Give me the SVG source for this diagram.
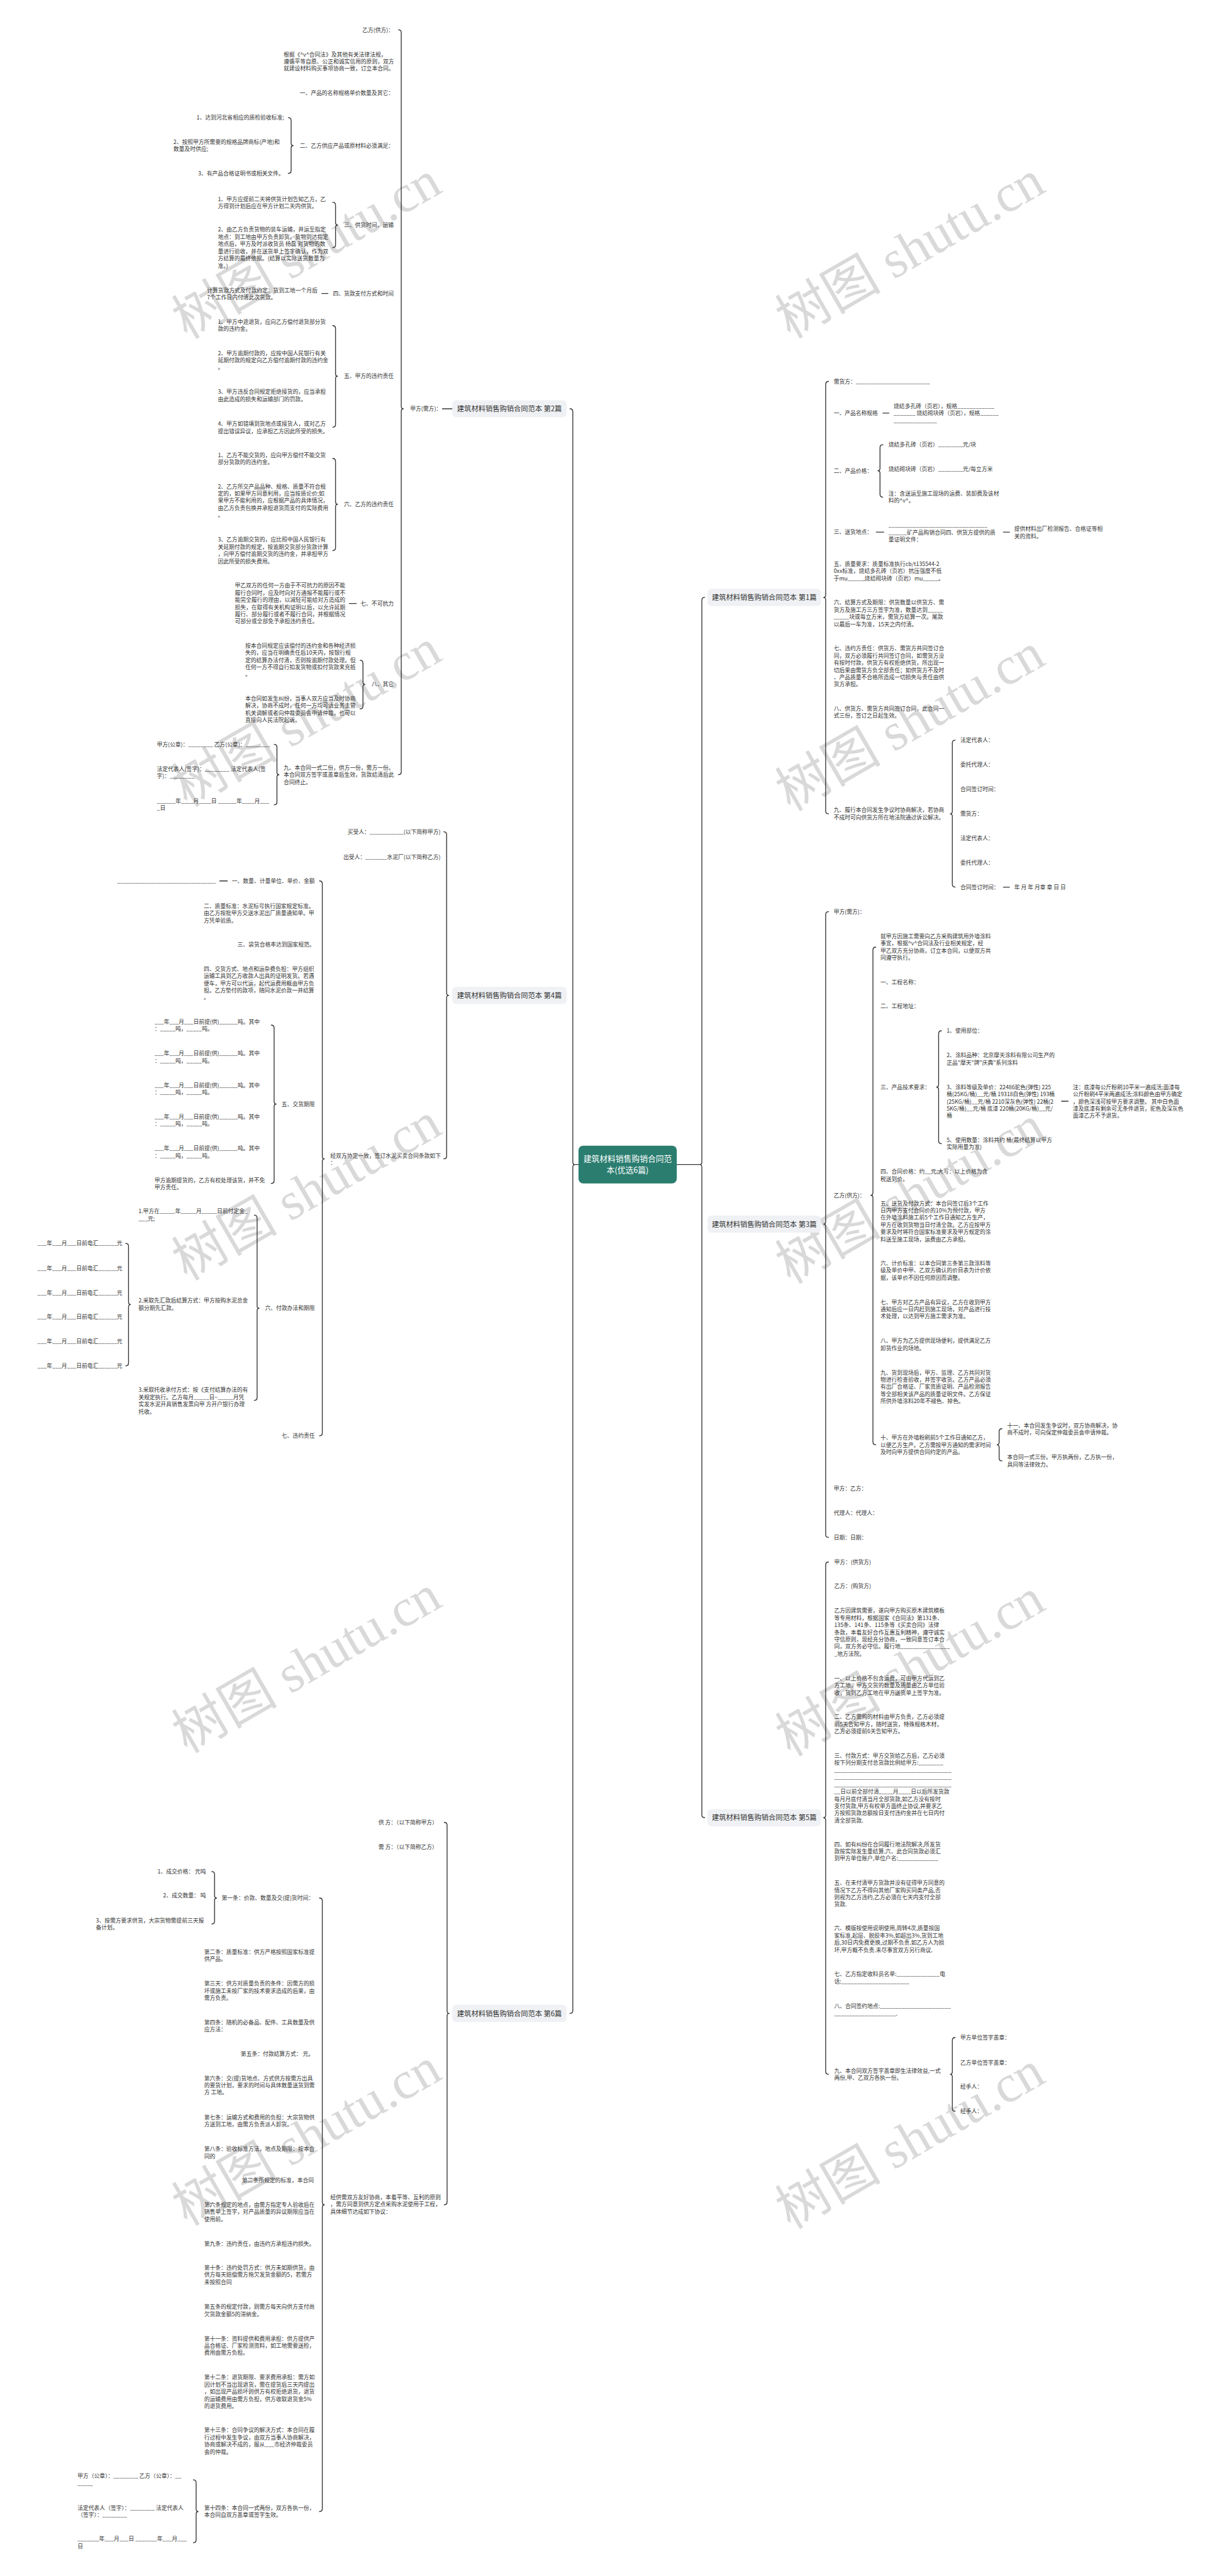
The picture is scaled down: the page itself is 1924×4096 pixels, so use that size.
<svg xmlns="http://www.w3.org/2000/svg" width="1924" height="4096" viewBox="0 0 1924 4096">
<style>
.t{font-family:"Noto Sans CJK SC","Liberation Sans",sans-serif;font-size:11.7px;fill:#333}
.e{text-anchor:end}
.ln{fill:none;stroke:#333;stroke-width:1.8;stroke-linecap:round}
.lb{fill:#eff1f4}
.lt{font-family:"Noto Sans CJK SC","Liberation Sans",sans-serif;font-size:15px;fill:#333;text-anchor:middle}
.ct{font-family:"Noto Sans CJK SC","Liberation Sans",sans-serif;font-size:17px;fill:#fff;text-anchor:middle}
.wm{font-family:"Liberation Serif","Noto Sans CJK SC",serif;font-size:112px;fill:#d9d9d9;text-anchor:middle}
</style>
<rect width="1924" height="4096" fill="#fff"/>
<g transform="scale(0.7515)">
<g id="watermarks">
<text class="wm" x="648" y="567" transform="rotate(-30 648 528)">树图 shutu.cn</text>
<text class="wm" x="648" y="1557" transform="rotate(-30 648 1518)">树图 shutu.cn</text>
<text class="wm" x="648" y="2559" transform="rotate(-30 648 2520)">树图 shutu.cn</text>
<text class="wm" x="648" y="3559" transform="rotate(-30 648 3520)">树图 shutu.cn</text>
<text class="wm" x="648" y="4559" transform="rotate(-30 648 4520)">树图 shutu.cn</text>
<text class="wm" x="1925" y="566" transform="rotate(-30 1925 527)">树图 shutu.cn</text>
<text class="wm" x="1925" y="1566" transform="rotate(-30 1925 1527)">树图 shutu.cn</text>
<text class="wm" x="1925" y="2566" transform="rotate(-30 1925 2527)">树图 shutu.cn</text>
<text class="wm" x="1925" y="3566" transform="rotate(-30 1925 3527)">树图 shutu.cn</text>
<text class="wm" x="1925" y="4566" transform="rotate(-30 1925 4527)">树图 shutu.cn</text>
</g>
<g id="connectors">
<path class="ln" d="M1206,865 Q1212,865 1212,871 L1212,2459 Q1212,2464 1217,2464 Q1212,2464 1212,2469 L1212,4254 Q1212,4260 1206,4260"/>
<path class="ln" d="M1217,2464 H1224"/>
<path class="ln" d="M1491,1264 Q1485,1264 1485,1270 L1485,2459 Q1485,2464 1480,2464 Q1485,2464 1485,2469 L1485,3840 Q1485,3846 1491,3846"/>
<path class="ln" d="M1432,2464 H1480"/>
<path class="ln" d="M843,63 Q849,63 849,69 L849,860 Q849,865 854,865 Q849,865 849,870 L849,1633 Q849,1639 843,1639"/>
<path class="ln" d="M610,249 Q616,249 616,255 L616,303 Q616,308 621,308 Q616,308 616,313 L616,361 Q616,367 610,367"/>
<path class="ln" d="M704,428 Q710,428 710,434 L710,471 Q710,476 715,476 Q710,476 710,481 L710,518 Q710,524 704,524"/>
<path class="ln" d="M704,689 Q710,689 710,695 L710,791 Q710,796 715,796 Q710,796 710,801 L710,898 Q710,904 704,904"/>
<path class="ln" d="M704,970 Q710,970 710,976 L710,1062 Q710,1067 715,1067 Q710,1067 710,1072 L710,1159 Q710,1165 704,1165"/>
<path class="ln" d="M762,1397 Q768,1397 768,1403 L768,1443 Q768,1448 773,1448 Q768,1448 768,1453 L768,1494 Q768,1500 762,1500"/>
<path class="ln" d="M580,1575 Q586,1575 586,1581 L586,1634 Q586,1639 591,1639 Q586,1639 586,1644 L586,1697 Q586,1703 580,1703"/>
<path class="ln" d="M936,865 H957"/>
<path class="ln" d="M681,621 H694"/>
<path class="ln" d="M739,1277 H754"/>
<path class="ln" d="M939,1760 Q945,1760 945,1766 L945,2101 Q945,2106 950,2106 Q945,2106 945,2111 L945,2446 Q945,2452 939,2452"/>
<path class="ln" d="M676,1864 Q682,1864 682,1870 L682,2447 Q682,2452 687,2452 Q682,2452 682,2457 L682,3032 Q682,3038 676,3038"/>
<path class="ln" d="M574,2169 Q580,2169 580,2175 L580,2331 Q580,2336 585,2336 Q580,2336 580,2341 L580,2498 Q580,2504 574,2504"/>
<path class="ln" d="M538,2571 Q544,2571 544,2577 L544,2763 Q544,2768 549,2768 Q544,2768 544,2773 L544,2957 Q544,2963 538,2963"/>
<path class="ln" d="M266,2631 Q272,2631 272,2637 L272,2755 Q272,2760 277,2760 Q272,2760 272,2765 L272,2884 Q272,2890 266,2890"/>
<path class="ln" d="M465,1864 H481"/>
<path class="ln" d="M940,3856 Q946,3856 946,3862 L946,4255 Q946,4260 951,4260 Q946,4260 946,4265 L946,4659 Q946,4665 940,4665"/>
<path class="ln" d="M676,4016 Q682,4016 682,4022 L682,4660 Q682,4665 687,4665 Q682,4665 682,4670 L682,5308 Q682,5314 676,5314"/>
<path class="ln" d="M448,3960 Q454,3960 454,3966 L454,4011 Q454,4016 459,4016 Q454,4016 454,4021 L454,4065 Q454,4071 448,4071"/>
<path class="ln" d="M409,5247 Q415,5247 415,5253 L415,5309 Q415,5314 420,5314 Q415,5314 415,5319 L415,5374 Q415,5380 409,5380"/>
<path class="ln" d="M1753,807 Q1747,807 1747,813 L1747,1259 Q1747,1264 1742,1264 Q1747,1264 1747,1269 L1747,1716 Q1747,1722 1753,1722"/>
<path class="ln" d="M1868,941 Q1862,941 1862,947 L1862,991 Q1862,996 1857,996 Q1862,996 1862,1001 L1862,1046 Q1862,1052 1868,1052"/>
<path class="ln" d="M2021,1566 Q2015,1566 2015,1572 L2015,1717 Q2015,1722 2010,1722 Q2015,1722 2015,1727 L2015,1871 Q2015,1877 2021,1877"/>
<path class="ln" d="M1868,874 H1881"/>
<path class="ln" d="M1854,1126 H1870"/>
<path class="ln" d="M2123,1126 H2136"/>
<path class="ln" d="M2123,1877 H2136"/>
<path class="ln" d="M1753,1929 Q1747,1929 1747,1935 L1747,2585 Q1747,2590 1742,2590 Q1747,2590 1747,2595 L1747,3247 Q1747,3253 1753,3253"/>
<path class="ln" d="M1853,2004 Q1847,2004 1847,2010 L1847,2524 Q1847,2529 1842,2529 Q1847,2529 1847,2534 L1847,3051 Q1847,3057 1853,3057"/>
<path class="ln" d="M1992,2181 Q1986,2181 1986,2187 L1986,2295 Q1986,2300 1981,2300 Q1986,2300 1986,2305 L1986,2414 Q1986,2420 1992,2420"/>
<path class="ln" d="M2120,3023 Q2114,3023 2114,3029 L2114,3052 Q2114,3057 2109,3057 Q2114,3057 2114,3062 L2114,3085 Q2114,3091 2120,3091"/>
<path class="ln" d="M2246,2330 H2260"/>
<path class="ln" d="M1753,3305 Q1747,3305 1747,3311 L1747,3841 Q1747,3846 1742,3846 Q1747,3846 1747,3851 L1747,4383 Q1747,4389 1753,4389"/>
<path class="ln" d="M2021,4311 Q2015,4311 2015,4317 L2015,4384 Q2015,4389 2010,4389 Q2015,4389 2015,4394 L2015,4461 Q2015,4467 2021,4467"/>
</g>
<g id="center">
<rect x="1224" y="2424" width="208" height="80" rx="10" fill="#2a7d6f"/>
<text class="ct" x="1328" y="2458">建筑材料销售购销合同范</text>
<text class="ct" x="1328" y="2482">本(优选6篇)</text>
</g>
<g id="b2"><rect class="lb" x="957" y="847" width="242" height="36" rx="8"/><text class="lt" x="1078" y="870.5">建筑材料销售购销合同范本 第2篇</text></g>
<g id="b4"><rect class="lb" x="957" y="2088" width="242" height="36" rx="8"/><text class="lt" x="1078" y="2111.5">建筑材料销售购销合同范本 第4篇</text></g>
<g id="b6"><rect class="lb" x="957" y="4242" width="242" height="36" rx="8"/><text class="lt" x="1078" y="4265.5">建筑材料销售购销合同范本 第6篇</text></g>
<g id="b1"><rect class="lb" x="1497" y="1246" width="240" height="36" rx="8"/><text class="lt" x="1617" y="1269.5">建筑材料销售购销合同范本 第1篇</text></g>
<g id="b3"><rect class="lb" x="1497" y="2572" width="240" height="36" rx="8"/><text class="lt" x="1617" y="2595.5">建筑材料销售购销合同范本 第3篇</text></g>
<g id="b5"><rect class="lb" x="1497" y="3828" width="240" height="36" rx="8"/><text class="lt" x="1617" y="3851.5">建筑材料销售购销合同范本 第5篇</text></g>

<g id="l1">
<g id="l1-jf"><text class="t" x="868" y="869.3">甲方(需方)：</text></g>
<g id="l1-1"><text class="t e" x="833" y="67.3">乙方(供方)：</text></g>
<g id="l1-2"><text class="t" x="600" y="119.3"><tspan x="600">根据《^v^合同法》及其他有关法律法规，</tspan><tspan x="600" dy="15.2">遵循平等自愿、公正和诚实信用的原则，双方</tspan><tspan x="600" dy="15.2">就建设材料购买事项协商一致，订立本合同。</tspan></text></g>
<g id="l1-3"><text class="t e" x="833" y="201.3">一、产品的名称规格单价数量及其它：</text></g>
<g id="l1-4"><text class="t e" x="833" y="312.3">二、乙方供应产品或原材料必须满足：</text></g>
<g id="l1-4a"><text class="t e" x="601" y="253.3">1、达到河北省相应的质检验收标准;</text></g>
<g id="l1-4b"><text class="t" x="367" y="304.3"><tspan x="367">2、按照甲方所需要的规格品牌商标(产地)和</tspan><tspan x="367" dy="15.2">数量及时供应;</tspan></text></g>
<g id="l1-4c"><text class="t e" x="601" y="371.3">3、有产品合格证明书或相关文件。</text></g>
<g id="l1-5"><text class="t e" x="833" y="480.3">三、供货时间、运输</text></g>
<g id="l1-5a"><text class="t" x="461" y="425.3"><tspan x="461">1、甲方应提前二天将供货计划告知乙方，乙</tspan><tspan x="461" dy="15.2">方得到计划后应在甲方计划二天内供货。</tspan></text></g>
<g id="l1-5b"><text class="t" x="461" y="490.3"><tspan x="461">2、由乙方负责货物的装车运输，并运至指定</tspan><tspan x="461" dy="15.2">地点：到工地由甲方负责卸货。货物到达指定</tspan><tspan x="461" dy="15.2">地点后，甲方及时派收货员 杨磊 对货物的数</tspan><tspan x="461" dy="15.2">量进行验收，并在送货单上签字确认，作为双</tspan><tspan x="461" dy="15.2">方结算的最终依据。(结算以实际送货数量为</tspan><tspan x="461" dy="15.2">准。)</tspan></text></g>
<g id="l1-6"><text class="t e" x="833" y="625.3">四、货款支付方式和时间</text></g>
<g id="l1-6a"><text class="t" x="438" y="618.3"><tspan x="438">计算货款方式及付款约定：货到工地一个月后</tspan><tspan x="438" dy="15.2">7个工作日内付清此次货款。</tspan></text></g>
<g id="l1-7"><text class="t e" x="833" y="800.3">五、甲方的违约责任</text></g>
<g id="l1-7a"><text class="t" x="461" y="685.3"><tspan x="461">1、甲方中途退货，应向乙方偿付退货部分货</tspan><tspan x="461" dy="15.2">款的违约金。</tspan></text></g>
<g id="l1-7b"><text class="t" x="461" y="751.3"><tspan x="461">2、甲方逾期付款的，应按中国人民银行有关</tspan><tspan x="461" dy="15.2">延期付款的规定向乙方偿付逾期付款的违约金</tspan><tspan x="461" dy="15.2">。</tspan></text></g>
<g id="l1-7c"><text class="t" x="461" y="833.3"><tspan x="461">3、甲方违反合同规定拒绝接货的，应当承担</tspan><tspan x="461" dy="15.2">由此造成的损失和运输部门的罚款。</tspan></text></g>
<g id="l1-7d"><text class="t" x="461" y="901.3"><tspan x="461">4、甲方如错填到货地点或接货人，或对乙方</tspan><tspan x="461" dy="15.2">提出错误异议，应承担乙方因此所受的损失。</tspan></text></g>
<g id="l1-8"><text class="t e" x="833" y="1071.3">六、乙方的违约责任</text></g>
<g id="l1-8a"><text class="t" x="461" y="967.3"><tspan x="461">1、乙方不能交货的，应向甲方偿付不能交货</tspan><tspan x="461" dy="15.2">部分货款的的违约金。</tspan></text></g>
<g id="l1-8b"><text class="t" x="461" y="1033.3"><tspan x="461">2、乙方所交产品品种、规格、质量不符合规</tspan><tspan x="461" dy="15.2">定的，如果甲方同意利用，应当按质论价;如</tspan><tspan x="461" dy="15.2">果甲方不能利用的，应根据产品的具体情况，</tspan><tspan x="461" dy="15.2">由乙方负责包换并承担退货而支付的实际费用</tspan><tspan x="461" dy="15.2">。</tspan></text></g>
<g id="l1-8c"><text class="t" x="461" y="1146.3"><tspan x="461">3、乙方逾期交货的，应比照中国人民银行有</tspan><tspan x="461" dy="15.2">关延期付款的规定，按逾期交货部分货款计算</tspan><tspan x="461" dy="15.2">，向甲方偿付逾期交货的违约金，并承担甲方</tspan><tspan x="461" dy="15.2">因此所受的损失费用。</tspan></text></g>
<g id="l1-9"><text class="t e" x="833" y="1281.3">七、不可抗力</text></g>
<g id="l1-9a"><text class="t" x="497" y="1243.3"><tspan x="497">甲乙双方的任何一方由于不可抗力的原因不能</tspan><tspan x="497" dy="15.2">履行合同时，应及时向对方通报不能履行或不</tspan><tspan x="497" dy="15.2">能完全履行的理由，以减轻可能给对方造成的</tspan><tspan x="497" dy="15.2">损失，在取得有关机构证明以后，以允许延期</tspan><tspan x="497" dy="15.2">履行、部分履行或者不履行合同，并根据情况</tspan><tspan x="497" dy="15.2">可部分或全部免予承担违约责任。</tspan></text></g>
<g id="l1-10"><text class="t e" x="833" y="1452.3">八、其它</text></g>
<g id="l1-10a"><text class="t" x="519" y="1370.3"><tspan x="519">按本合同规定应该偿付的违约金和各种经济损</tspan><tspan x="519" dy="15.2">失的，应当在明确责任后10天内，按银行规</tspan><tspan x="519" dy="15.2">定的结算办法付清，否则按逾期付款处理。但</tspan><tspan x="519" dy="15.2">任何一方不得自行扣发货物或扣付货款来充抵</tspan><tspan x="519" dy="15.2">。</tspan></text></g>
<g id="l1-10b"><text class="t" x="519" y="1482.3"><tspan x="519">本合同如发生纠纷，当事人双方应当及时协商</tspan><tspan x="519" dy="15.2">解决，协商不成时，任何一方均可请业务主管</tspan><tspan x="519" dy="15.2">机关调解或者向仲裁委员会申请仲裁，也可以</tspan><tspan x="519" dy="15.2">直接向人民法院起诉。</tspan></text></g>
<g id="l1-11"><text class="t" x="600" y="1628.3"><tspan x="600">九、本合同一式二份，供方一份，需方一份。</tspan><tspan x="600" dy="15.2">本合同双方签字或盖章后生效，货款结清后此</tspan><tspan x="600" dy="15.2">合同终止。</tspan></text></g>
<g id="l1-11a"><text class="t" x="332" y="1579.3">甲方(公章)：________ 乙方(公章)：________</text></g>
<g id="l1-11b"><text class="t" x="332" y="1631.3"><tspan x="332">法定代表人(签字)：________ 法定代表人(签</tspan><tspan x="332" dy="15.2">字)：________</tspan></text></g>
<g id="l1-11c"><text class="t" x="332" y="1699.3"><tspan x="332">______年____月____日 ______年____月___</tspan><tspan x="332" dy="15.2">_日</tspan></text></g>
</g>

<g id="l2">
<g id="l2-1"><text class="t e" x="932" y="1764.3">买受人：___________(以下简称甲方)</text></g>
<g id="l2-2"><text class="t e" x="932" y="1817.3">出受人：_______水泥厂(以下简称乙方)</text></g>
<g id="l2-3"><text class="t" x="699" y="2449.3"><tspan x="699">经双方协定一致，签订水泥买卖合同条款如下</tspan><tspan x="699" dy="15.2">：</tspan></text></g>
<g id="l2-3a"><text class="t e" x="666" y="1868.3">一、数量、计量单位、单价、金额</text></g>
<g id="l2-3a1"><text class="t e" x="457" y="1868.3">________________________________</text></g>
<g id="l2-3b"><text class="t" x="431" y="1921.3"><tspan x="431">二、质量标准：水泥标号执行国家规定标准。</tspan><tspan x="431" dy="15.2">由乙方按批甲方交送水泥出厂质量通知单。甲</tspan><tspan x="431" dy="15.2">方凭单验质。</tspan></text></g>
<g id="l2-3c"><text class="t e" x="666" y="2002.3">三、袋货合格率达到国家规范。</text></g>
<g id="l2-3d"><text class="t" x="431" y="2054.3"><tspan x="431">四、交货方式、地点和运杂费负担：甲方组织</tspan><tspan x="431" dy="15.2">运输工具到乙方收款人出具的证明发货。若遇</tspan><tspan x="431" dy="15.2">便车，甲方可以代运，起代运费用概由甲方负</tspan><tspan x="431" dy="15.2">担。乙方垫付的款项，随同水泥价款一并结算</tspan><tspan x="431" dy="15.2">。</tspan></text></g>
<g id="l2-3e"><text class="t e" x="666" y="2340.3">五、交货期限</text></g>
<g id="l2-3e1"><text class="t" x="327" y="2166.3"><tspan x="327">___年___月___日前提(供)______吨。其中</tspan><tspan x="327" dy="15.2">：_____吨，_____吨。</tspan></text></g>
<g id="l2-3e2"><text class="t" x="327" y="2233.3"><tspan x="327">___年___月___日前提(供)______吨。其中</tspan><tspan x="327" dy="15.2">：_____吨，_____吨。</tspan></text></g>
<g id="l2-3e3"><text class="t" x="327" y="2300.3"><tspan x="327">___年___月___日前提(供)______吨。其中</tspan><tspan x="327" dy="15.2">：_____吨，_____吨。</tspan></text></g>
<g id="l2-3e4"><text class="t" x="327" y="2367.3"><tspan x="327">___年___月___日前提(供)______吨。其中</tspan><tspan x="327" dy="15.2">：_____吨，_____吨。</tspan></text></g>
<g id="l2-3e5"><text class="t" x="327" y="2434.3"><tspan x="327">___年___月___日前提(供)______吨。其中</tspan><tspan x="327" dy="15.2">：_____吨，_____吨。</tspan></text></g>
<g id="l2-3e6"><text class="t" x="327" y="2501.3"><tspan x="327">甲方逾期提货的，乙方有权处理该货，并不免</tspan><tspan x="327" dy="15.2">甲方责任。</tspan></text></g>
<g id="l2-3f"><text class="t e" x="666" y="2772.3">六、付款办法和期限</text></g>
<g id="l2-3f1"><text class="t" x="293" y="2567.3"><tspan x="293">1.甲方在_____年_____月_____日前付定金_</tspan><tspan x="293" dy="15.2">___元;</tspan></text></g>
<g id="l2-3f2"><text class="t" x="293" y="2756.3"><tspan x="293">2.采取先汇款后结算方式：甲方按购水泥总金</tspan><tspan x="293" dy="15.2">额分期先汇款。</tspan></text></g>
<g id="l2-3f2a"><text class="t e" x="259" y="2635.3">___年___月___日前电汇______元</text></g>
<g id="l2-3f2b"><text class="t e" x="259" y="2687.3">___年___月___日前电汇______元</text></g>
<g id="l2-3f2c"><text class="t e" x="259" y="2739.3">___年___月___日前电汇______元</text></g>
<g id="l2-3f2d"><text class="t e" x="259" y="2790.3">___年___月___日前电汇______元</text></g>
<g id="l2-3f2e"><text class="t e" x="259" y="2842.3">___年___月___日前电汇______元</text></g>
<g id="l2-3f2f"><text class="t e" x="259" y="2894.3">___年___月___日前电汇______元</text></g>
<g id="l2-3f3"><text class="t" x="293" y="2945.3"><tspan x="293">3.采取托收承付方式：按《支付结算办法的有</tspan><tspan x="293" dy="15.2">关规定执行。乙方每月_____日~_____月凭</tspan><tspan x="293" dy="15.2">实发水泥开具销售发票向甲 方开户银行办理</tspan><tspan x="293" dy="15.2">托收。</tspan></text></g>
<g id="l2-3g"><text class="t e" x="666" y="3042.3">七、违约责任</text></g>
</g>

<g id="l3">
<g id="l3-1"><text class="t e" x="926" y="3860.3">供 方：（以下简称甲方）</text></g>
<g id="l3-2"><text class="t e" x="926" y="3912.3">需 方：（以下简称乙方）</text></g>
<g id="l3-3"><text class="t" x="699" y="4653.3"><tspan x="699">经供需双方友好协商，本着平等、互利的原则</tspan><tspan x="699" dy="15.2">，需方同意到供方定点采购水泥使用于工程，</tspan><tspan x="699" dy="15.2">具体细节达成如下协议：</tspan></text></g>
<g id="l3-3a"><text class="t e" x="664" y="4020.3">第一条：价款、数量及交(提)货时间：</text></g>
<g id="l3-3a1"><text class="t e" x="436" y="3964.3">1、成交价格： 元吨</text></g>
<g id="l3-3a2"><text class="t e" x="436" y="4015.3">2、成交数量： 吨</text></g>
<g id="l3-3a3"><text class="t" x="203" y="4067.3"><tspan x="203">3、按需方要求供货，大宗货物需提前三天报</tspan><tspan x="203" dy="15.2">备计划。</tspan></text></g>
<g id="l3-3b"><text class="t" x="432" y="4134.3"><tspan x="432">第二条：质量标准：供方严格按照国家标准提</tspan><tspan x="432" dy="15.2">供产品。</tspan></text></g>
<g id="l3-3c"><text class="t" x="432" y="4201.3"><tspan x="432">第三天：供方对质量负责的条件：因需方的损</tspan><tspan x="432" dy="15.2">坏或施工未按厂家的技术要求造成的后果，由</tspan><tspan x="432" dy="15.2">需方负责。</tspan></text></g>
<g id="l3-3d"><text class="t" x="432" y="4283.3"><tspan x="432">第四条：随机的必备品、配件、工具数量及供</tspan><tspan x="432" dy="15.2">应方法：</tspan></text></g>
<g id="l3-3e"><text class="t e" x="664" y="4350.3">第五条：付款结算方式： 元。</text></g>
<g id="l3-3f"><text class="t" x="432" y="4401.3"><tspan x="432">第六条：交(提)货地点、方式供方按需方出具</tspan><tspan x="432" dy="15.2">的要货计划，要求的时间与具体数量送货到需</tspan><tspan x="432" dy="15.2">方 工地。</tspan></text></g>
<g id="l3-3g"><text class="t" x="432" y="4484.3"><tspan x="432">第七条：运输方式和费用的负担：大宗货物供</tspan><tspan x="432" dy="15.2">方送到工地，由需方负责派人卸货。</tspan></text></g>
<g id="l3-3h"><text class="t" x="432" y="4551.3"><tspan x="432">第八条：验收标准方法，地点及期限：按本合</tspan><tspan x="432" dy="15.2">同的</tspan></text></g>
<g id="l3-3i"><text class="t e" x="664" y="4617.3">第二条所规定的标准，本合同</text></g>
<g id="l3-3j"><text class="t" x="432" y="4669.3"><tspan x="432">第六条规定的地点，由需方指定专人验收后在</tspan><tspan x="432" dy="15.2">销售单上签字，对产品质量的异议期限应当在</tspan><tspan x="432" dy="15.2">使用前。</tspan></text></g>
<g id="l3-3k"><text class="t" x="432" y="4751.3">第九条：违约责任，由违约方承担违约损失。</text></g>
<g id="l3-3l"><text class="t" x="432" y="4802.3"><tspan x="432">第十条：违约处罚方式：供方未如期供货，由</tspan><tspan x="432" dy="15.2">供方每天赔偿需方拖欠发货金额的5，若需方</tspan><tspan x="432" dy="15.2">未按照合同</tspan></text></g>
<g id="l3-3m"><text class="t" x="432" y="4885.3"><tspan x="432">第五条的规定付款，则需方每天向供方支付尚</tspan><tspan x="432" dy="15.2">欠货款金额5的滞纳金。</tspan></text></g>
<g id="l3-3n"><text class="t" x="432" y="4952.3"><tspan x="432">第十一条：资料提供和费用承担：供方提供产</tspan><tspan x="432" dy="15.2">品合格证、厂家检测资料，如工地需要送检，</tspan><tspan x="432" dy="15.2">费用由需方负担。</tspan></text></g>
<g id="l3-3o"><text class="t" x="432" y="5034.3"><tspan x="432">第十二条：退货期限、要求费用承担：需方如</tspan><tspan x="432" dy="15.2">因计划不当出现退货，需在提货后三天内提出</tspan><tspan x="432" dy="15.2">，如出现产品损坏则供方有权拒绝退货，退货</tspan><tspan x="432" dy="15.2">的运输费用由需方负担，供方收取退货金5%</tspan><tspan x="432" dy="15.2">的退货费用。</tspan></text></g>
<g id="l3-3p"><text class="t" x="432" y="5146.3"><tspan x="432">第十三条：合同争议的解决方式：本合同在履</tspan><tspan x="432" dy="15.2">行过程中发生争议，由双方当事人协商解决，</tspan><tspan x="432" dy="15.2">协商或解决不成的，服从___市经济仲裁委员</tspan><tspan x="432" dy="15.2">会的仲裁。</tspan></text></g>
<g id="l3-3q"><text class="t" x="432" y="5310.3"><tspan x="432">第十四条：本合同一式两份，双方各执一份，</tspan><tspan x="432" dy="15.2">本合同自双方盖章或签字生效。</tspan></text></g>
<g id="l3-3q1"><text class="t" x="164" y="5243.3"><tspan x="164">甲方（公章）：________ 乙方（公章）：__</tspan><tspan x="164" dy="15.2">_____</tspan></text></g>
<g id="l3-3q2"><text class="t" x="164" y="5310.3"><tspan x="164">法定代表人（签字）：________ 法定代表人</tspan><tspan x="164" dy="15.2">（签字）：________</tspan></text></g>
<g id="l3-3q3"><text class="t" x="164" y="5376.3"><tspan x="164">_______年___月___日 _______年___月___</tspan><tspan x="164" dy="15.2">日</tspan></text></g>
</g>

<g id="r1">
<g id="r1-1"><text class="t" x="1764" y="811.3">需货方：________________________</text></g>
<g id="r1-2"><text class="t" x="1764" y="878.3">一、产品名称规格</text></g>
<g id="r1-2a"><text class="t" x="1891" y="863.3"><tspan x="1891">烧结多孔砖（页岩），规格____________</tspan><tspan x="1891" dy="15.2">_______ 烧结砌块砖（页岩），规格______</tspan><tspan x="1891" dy="15.2">______________</tspan></text></g>
<g id="r1-3"><text class="t" x="1764" y="1000.3">二、产品价格：</text></g>
<g id="r1-3a"><text class="t" x="1880" y="945.3">烧结多孔砖（页岩）________元/块</text></g>
<g id="r1-3b"><text class="t" x="1880" y="996.3">烧结砌块砖（页岩）________元/每立方米</text></g>
<g id="r1-3c"><text class="t" x="1880" y="1048.3"><tspan x="1880">注：含送运至施工现场的运费、装卸费及该材</tspan><tspan x="1880" dy="15.2">料的^v^。</tspan></text></g>
<g id="r1-4"><text class="t" x="1764" y="1130.3">三、送货地点：</text></g>
<g id="r1-4a"><text class="t" x="1880" y="1115.3"><tspan x="1880">________________________________</tspan><tspan x="1880" dy="15.2">______矿产品购销合同四、供货方提供的质</tspan><tspan x="1880" dy="15.2">量证明文件：</tspan></text></g>
<g id="r1-4b"><text class="t" x="2146" y="1123.3"><tspan x="2146">提供材料出厂检测报告、合格证等相</tspan><tspan x="2146" dy="15.2">关的资料。</tspan></text></g>
<g id="r1-5"><text class="t" x="1764" y="1197.3"><tspan x="1764">五、质量要求：质量标准执行cb/t135544-2</tspan><tspan x="1764" dy="15.2">0xx标准，烧结多孔砖（页岩）抗压强度不低</tspan><tspan x="1764" dy="15.2">于mu_____,烧结砌块砖（页岩）mu_____。</tspan></text></g>
<g id="r1-6"><text class="t" x="1764" y="1279.3"><tspan x="1764">六、结算方式及期限：供货数量以供货方、需</tspan><tspan x="1764" dy="15.2">货方及施工方三方签字为准，数量达到_____</tspan><tspan x="1764" dy="15.2">_____块或每立方米，需货方结算一次。尾款</tspan><tspan x="1764" dy="15.2">以最后一车为准，15天之内付清。</tspan></text></g>
<g id="r1-7"><text class="t" x="1764" y="1376.3"><tspan x="1764">七、违约方责任：供货方、需货方共同签订合</tspan><tspan x="1764" dy="15.2">同，双方必须履行共同签订合同，如需货方没</tspan><tspan x="1764" dy="15.2">有按时付款，供货方有权拒绝供货，所出现一</tspan><tspan x="1764" dy="15.2">切后果由需货方负全部责任；如供货方不及时</tspan><tspan x="1764" dy="15.2">、产品质量不合格所造成一切损失与责任由供</tspan><tspan x="1764" dy="15.2">货方承担。</tspan></text></g>
<g id="r1-8"><text class="t" x="1764" y="1503.3"><tspan x="1764">八、供货方、需货方共同签订合同，此合同一</tspan><tspan x="1764" dy="15.2">式三份，签订之日起生效。</tspan></text></g>
<g id="r1-9"><text class="t" x="1764" y="1718.3"><tspan x="1764">九、履行本合同发生争议时协商解决，若协商</tspan><tspan x="1764" dy="15.2">不成时可向供货方所在地法院通过诉讼解决。</tspan></text></g>
<g id="r1-9a"><text class="t" x="2032" y="1570.3">法定代表人：</text></g>
<g id="r1-9b"><text class="t" x="2032" y="1622.3">委托代理人：</text></g>
<g id="r1-9c"><text class="t" x="2032" y="1674.3">合同签订时间：</text></g>
<g id="r1-9d"><text class="t" x="2032" y="1725.3">需货方：</text></g>
<g id="r1-9e"><text class="t" x="2032" y="1777.3">法定代表人：</text></g>
<g id="r1-9f"><text class="t" x="2032" y="1829.3">委托代理人：</text></g>
<g id="r1-9g"><text class="t" x="2032" y="1881.3">合同签订时间：</text></g>
<g id="r1-9g1"><text class="t" x="2146" y="1881.3">年 月 年 月章 章 日 日</text></g>
</g>

<g id="r2">
<g id="r2-1"><text class="t" x="1764" y="1933.3">甲方(需方)：</text></g>
<g id="r2-2"><text class="t" x="1764" y="2533.3">乙方(供方)：</text></g>
<g id="r2-2a"><text class="t" x="1863" y="1985.3"><tspan x="1863">就甲方因施工需要向乙方采购建筑用外墙涂料</tspan><tspan x="1863" dy="15.2">事宜，根据^v^合同法及行业相关规定，经</tspan><tspan x="1863" dy="15.2">甲乙双方充分协商，订立本合同，以便双方共</tspan><tspan x="1863" dy="15.2">同遵守执行。</tspan></text></g>
<g id="r2-2b"><text class="t" x="1863" y="2082.3">一、工程名称：</text></g>
<g id="r2-2c"><text class="t" x="1863" y="2133.3">二、工程地址：</text></g>
<g id="r2-2d"><text class="t" x="1863" y="2304.3">三、产品技术要求：</text></g>
<g id="r2-2d1"><text class="t" x="2003" y="2185.3">1、使用部位：</text></g>
<g id="r2-2d2"><text class="t" x="2003" y="2237.3"><tspan x="2003">2、涂料品种：北京摩天涂料有限公司生产的</tspan><tspan x="2003" dy="15.2">正品"摩天"牌"庆典"系列涂料</tspan></text></g>
<g id="r2-2d3"><text class="t" x="2003" y="2304.3"><tspan x="2003">3、涂料等级及单价：22486驼色(弹性) 225</tspan><tspan x="2003" dy="15.2">桶(25KG/桶)__元/桶 19318白色(弹性) 193桶</tspan><tspan x="2003" dy="15.2">(25KG/桶)__元/桶 2210深灰色(弹性) 22桶(2</tspan><tspan x="2003" dy="15.2">5KG/桶)__元/桶 底漆 220桶(20KG/桶)__元/</tspan><tspan x="2003" dy="15.2">桶</tspan></text></g>
<g id="r2-2d3a"><text class="t" x="2270" y="2304.3"><tspan x="2270">注：底漆每公斤粉刷10平米一遍成活;面漆每</tspan><tspan x="2270" dy="15.2">公斤粉刷4平米两遍成活;涂料颜色由甲方确定</tspan><tspan x="2270" dy="15.2">，颜色深浅可按甲方要求调整。 其中白色面</tspan><tspan x="2270" dy="15.2">漆及底漆有剩余可无条件退货，驼色及深灰色</tspan><tspan x="2270" dy="15.2">面漆乙方不予退货。</tspan></text></g>
<g id="r2-2d4"><text class="t" x="2003" y="2416.3"><tspan x="2003">5、使用数量：涂料共约 桶(最终结算以甲方</tspan><tspan x="2003" dy="15.2">实际用量为准)</tspan></text></g>
<g id="r2-2e"><text class="t" x="1863" y="2483.3"><tspan x="1863">四、合同价格：约__元;大写：以上价格为含</tspan><tspan x="1863" dy="15.2">税送到价。</tspan></text></g>
<g id="r2-2f"><text class="t" x="1863" y="2550.3"><tspan x="1863">五、送货及付款方式：本合同签订后3个工作</tspan><tspan x="1863" dy="15.2">日内甲方支付合同价的10%为预付款，甲方</tspan><tspan x="1863" dy="15.2">在外墙涂料施工前5个工作日通知乙方生产，</tspan><tspan x="1863" dy="15.2">甲方在收到货物当日付清全款。乙方应按甲方</tspan><tspan x="1863" dy="15.2">要求及时将符合国家标准要求及甲方规定的涂</tspan><tspan x="1863" dy="15.2">料送至施工现场，运费由乙方承担。</tspan></text></g>
<g id="r2-2g"><text class="t" x="1863" y="2677.3"><tspan x="1863">六、计价标准：以本合同第三条第三款涂料等</tspan><tspan x="1863" dy="15.2">级及单价中甲、乙双方确认的价目表为计价依</tspan><tspan x="1863" dy="15.2">据，该单价不因任何原因而调整。</tspan></text></g>
<g id="r2-2h"><text class="t" x="1863" y="2759.3"><tspan x="1863">七、甲方对乙方产品有异议，乙方在收到甲方</tspan><tspan x="1863" dy="15.2">通知后应一日内赶到施工现场，对产品进行技</tspan><tspan x="1863" dy="15.2">术处理，以达到甲方施工需求为准。</tspan></text></g>
<g id="r2-2i"><text class="t" x="1863" y="2841.3"><tspan x="1863">八、甲方为乙方提供现场便利，提供满足乙方</tspan><tspan x="1863" dy="15.2">卸货作业的场地。</tspan></text></g>
<g id="r2-2j"><text class="t" x="1863" y="2908.3"><tspan x="1863">九、货到现场后，甲方、监理、乙方共同对货</tspan><tspan x="1863" dy="15.2">物进行检查验收，并签字收货。乙方产品必须</tspan><tspan x="1863" dy="15.2">有出厂合格证、厂家资质证明、产品检测报告</tspan><tspan x="1863" dy="15.2">等全部相关该产品的质量证明文件。乙方保证</tspan><tspan x="1863" dy="15.2">所供外墙涂料20年不褪色、掉色。</tspan></text></g>
<g id="r2-2k"><text class="t" x="1863" y="3046.3"><tspan x="1863">十、甲方在外墙粉刷前5个工作日通知乙方，</tspan><tspan x="1863" dy="15.2">以便乙方生产。乙方需按甲方通知的需求时间</tspan><tspan x="1863" dy="15.2">及时向甲方提供合同约定的产品。</tspan></text></g>
<g id="r2-2k1"><text class="t" x="2131" y="3020.3"><tspan x="2131">十一、本合同发生争议时，双方协商解决，协</tspan><tspan x="2131" dy="15.2">商不成时，可向保定仲裁委员会申请仲裁。</tspan></text></g>
<g id="r2-2k2"><text class="t" x="2131" y="3087.3"><tspan x="2131">本合同一式三份。甲方执两份，乙方执一份，</tspan><tspan x="2131" dy="15.2">具同等法律效力。</tspan></text></g>
<g id="r2-3"><text class="t" x="1764" y="3153.3">甲方：乙方：</text></g>
<g id="r2-4"><text class="t" x="1764" y="3205.3">代理人：代理人：</text></g>
<g id="r2-5"><text class="t" x="1764" y="3257.3">日期：日期：</text></g>
</g>

<g id="r3">
<g id="r3-1"><text class="t" x="1765" y="3309.3">甲方：(供货方)</text></g>
<g id="r3-2"><text class="t" x="1765" y="3360.3">乙方：(购货方)</text></g>
<g id="r3-3"><text class="t" x="1765" y="3412.3"><tspan x="1765">乙方因建筑需要，遂向甲方购买原木建筑模板</tspan><tspan x="1765" dy="15.2">等专用材料，根据国家《合同法》第131条、</tspan><tspan x="1765" dy="15.2">135条、141条、115条等《买卖合同》法律</tspan><tspan x="1765" dy="15.2">条款，本着友好合作互惠互利精神，遵守诚实</tspan><tspan x="1765" dy="15.2">守信原则，现经充分协商，一致同意签订本合</tspan><tspan x="1765" dy="15.2">同，双方务必守信。履行地________________</tspan><tspan x="1765" dy="15.2">_地方法院。</tspan></text></g>
<g id="r3-4"><text class="t" x="1765" y="3555.3"><tspan x="1765">一、以上价格不包含运费，可由甲方代运到乙</tspan><tspan x="1765" dy="15.2">方工地，甲方交货的数量及质量由乙方单位验</tspan><tspan x="1765" dy="15.2">收，货到乙方工地在甲方送货单上签字为准。</tspan></text></g>
<g id="r3-5"><text class="t" x="1765" y="3637.3"><tspan x="1765">二、乙方需购的材料由甲方负责，乙方必须提</tspan><tspan x="1765" dy="15.2">前5天告知甲方，随时送货，特殊规格木材，</tspan><tspan x="1765" dy="15.2">乙方必须提前6天告知甲方。</tspan></text></g>
<g id="r3-6"><text class="t" x="1765" y="3719.3"><tspan x="1765">三、付款方式：甲方交货给乙方后，乙方必须</tspan><tspan x="1765" dy="15.2">按下列分期支付总货款比例给甲方:________</tspan><tspan x="1765" dy="15.2">______________________________________</tspan><tspan x="1765" dy="15.2">______________________________________</tspan><tspan x="1765" dy="15.2">______________________________________</tspan><tspan x="1765" dy="15.2">__日以前全部付清,____月____日以后所发货款</tspan><tspan x="1765" dy="15.2">每月月底付清当月全部货款,如乙方没有按时</tspan><tspan x="1765" dy="15.2">支付货款,甲方有权单方面终止协议,并要求乙</tspan><tspan x="1765" dy="15.2">方按照货款总额按日支付违约金并在七日内付</tspan><tspan x="1765" dy="15.2">清全部货款.</tspan></text></g>
<g id="r3-7"><text class="t" x="1765" y="3906.3"><tspan x="1765">四、如有纠纷在合同履行地法院解决,所发货</tspan><tspan x="1765" dy="15.2">款按实际发生量结算.六、此合同货款必须汇</tspan><tspan x="1765" dy="15.2">到甲方单位账户,单位户名:_____________</tspan></text></g>
<g id="r3-8"><text class="t" x="1765" y="3988.3"><tspan x="1765">五、在未付清甲方货款并没有征得甲方同意的</tspan><tspan x="1765" dy="15.2">情况下乙方不得向其他厂家购买同类产品,否</tspan><tspan x="1765" dy="15.2">则视为乙方违约,乙方必须在七天内支付全部</tspan><tspan x="1765" dy="15.2">货款.</tspan></text></g>
<g id="r3-9"><text class="t" x="1765" y="4084.3"><tspan x="1765">六、模版按使用说明使用,周转4次,质量按国</tspan><tspan x="1765" dy="15.2">家标准,起层、脱胶率3%,如超出3%,货到工地</tspan><tspan x="1765" dy="15.2">后,30日内免费更换,过期不负责.如乙方人为损</tspan><tspan x="1765" dy="15.2">坏,甲方概不负责.未尽事宜双方另行商议.</tspan></text></g>
<g id="r3-10"><text class="t" x="1765" y="4181.3"><tspan x="1765">七、乙方指定收料员名单:______________电</tspan><tspan x="1765" dy="15.2">话:______________________</tspan></text></g>
<g id="r3-11"><text class="t" x="1765" y="4249.3"><tspan x="1765">八、合同签约地点:_______________________</tspan><tspan x="1765" dy="15.2">____________________.</tspan></text></g>
<g id="r3-12"><text class="t" x="1765" y="4385.3"><tspan x="1765">九、本合同双方签字盖章即生法律效益,一式</tspan><tspan x="1765" dy="15.2">两份,甲、乙双方各执一份。</tspan></text></g>
<g id="r3-12a"><text class="t" x="2032" y="4315.3">甲方单位签字盖章：</text></g>
<g id="r3-12b"><text class="t" x="2032" y="4368.3">乙方单位签字盖章：</text></g>
<g id="r3-12c"><text class="t" x="2032" y="4419.3">经手人：</text></g>
<g id="r3-12d"><text class="t" x="2032" y="4471.3">经手人：</text></g>
</g>
</g>
</svg>
